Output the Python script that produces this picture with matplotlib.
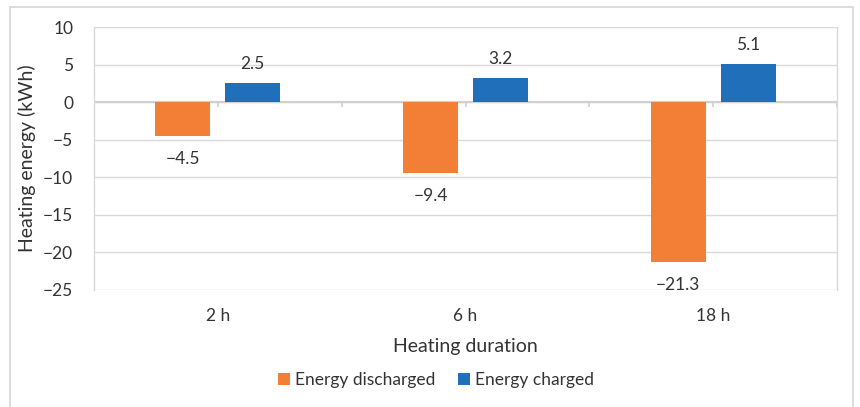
import matplotlib
matplotlib.use("Agg")
import matplotlib.pyplot as plt
from matplotlib.patches import Rectangle
import numpy as np

categories = ["2 h", "6 h", "18 h"]
energy_discharged = [-4.5, -9.4, -21.3]
energy_charged = [2.5, 3.2, 5.1]
y_ticks = [10, 5, 0, -5, -10, -15, -20, -25]

plt.rcParams["font.family"] = ["Lato", "DejaVu Sans"]
TEXT = "#333333"
GRID = "#d9d9d9"
ORANGE = "#f37f36"
BLUE = "#1f6fba"

fig = plt.figure(figsize=(8.6, 4.07), dpi=100)
fig.patch.set_facecolor("white")
# outer chart border
fig.add_artist(Rectangle((10 / 860, -0.05), 843 / 860, (400 / 407) + 0.05,
                         transform=fig.transFigure, fill=False,
                         edgecolor=GRID, linewidth=1.3))

ax = fig.add_axes([94 / 860, 1 - 290 / 407, (837 - 94) / 860, (290 - 27) / 407])
x = np.arange(len(categories))
w = 0.222
off = 0.1413

b1 = ax.bar(x - off, energy_discharged, w, color=ORANGE, label="Energy discharged", zorder=3)
b2 = ax.bar(x + off, energy_charged, w, color=BLUE, label="Energy charged", zorder=3)

for xi, v in zip(x - off, energy_discharged):
    ax.annotate(f"\u2212{abs(v):.1f}", (xi, v), xytext=(0, -11), textcoords="offset points",
                ha="center", va="top", fontsize=12.5, color=TEXT)
for xi, v in zip(x + off, energy_charged):
    ax.annotate(f"{v:.1f}", (xi, v), xytext=(0, 10), textcoords="offset points",
                ha="center", va="baseline", fontsize=12.5, color=TEXT)

ax.set_xlim(-0.5, len(categories) - 0.5)
ax.set_ylim(-25, 10)
ax.set_yticks(y_ticks)
ax.set_yticklabels([f"\u2212{abs(t)}" if t < 0 else str(t) for t in y_ticks])
ax.set_xticks(x)
ax.set_xticklabels(categories)
ax.tick_params(axis="both", length=0, labelsize=12.5, colors=TEXT)
ax.tick_params(axis="y", pad=15)
ax.tick_params(axis="x", pad=13)

ax.grid(axis="y", color=GRID, linewidth=1.0, zorder=0)
ax.set_axisbelow(True)
for s in ["top", "bottom"]:
    ax.spines[s].set_visible(False)
for s in ["left", "right"]:
    ax.spines[s].set_color(GRID)
    ax.spines[s].set_linewidth(1.0)

# horizontal category axis at zero with tick marks
ax.axhline(0, color="#d0d0d0", linewidth=1.6, zorder=2)
ax.vlines(np.arange(-0.5, len(categories), 0.5), -0.6, 0, color="#d0d0d0", linewidth=1.2, zorder=2)

ax.set_xlabel("Heating duration", fontsize=14, color=TEXT, labelpad=10)
ax.set_ylabel("Heating energy (kWh)", fontsize=14, color=TEXT, labelpad=5)

fig.legend(handles=[b1, b2], loc="center", bbox_to_anchor=(436 / 860, 1 - 380 / 407),
           ncol=2, frameon=False, fontsize=12.5, handlelength=0.7, handleheight=0.7,
           handletextpad=0.3, columnspacing=1.3, labelcolor=TEXT)

fig.savefig("out.png", dpi=100, facecolor="white")
